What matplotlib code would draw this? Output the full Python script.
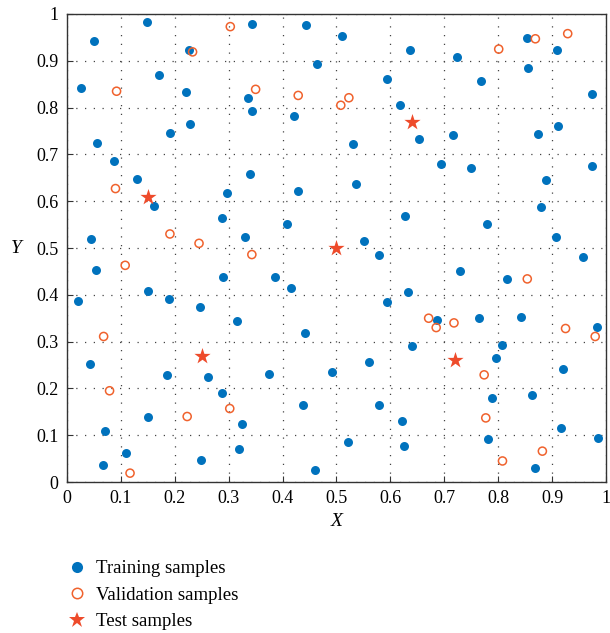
import matplotlib
matplotlib.use("Agg")
import matplotlib.pyplot as plt
from matplotlib.lines import Line2D

train_x = [0.149, 0.050, 0.227, 0.343, 0.444, 0.510, 0.463, 0.171, 0.026, 0.220,
           0.335, 0.343, 0.422, 0.228, 0.192, 0.055, 0.087, 0.129, 0.162, 0.340,
           0.296, 0.429, 0.288, 0.408, 0.044, 0.331,
           0.636, 0.724, 0.853, 0.910, 0.855, 0.594, 0.768, 0.974, 0.618, 0.653,
           0.716, 0.873, 0.911, 0.530, 0.694, 0.749, 0.975, 0.536, 0.889, 0.879,
           0.627, 0.779, 0.551, 0.907,
           0.053, 0.289, 0.386, 0.416, 0.150, 0.189, 0.021, 0.247, 0.316, 0.442,
           0.043, 0.186, 0.262, 0.375, 0.492, 0.287, 0.438, 0.151, 0.324, 0.071,
           0.320, 0.109, 0.066, 0.249, 0.461,
           0.579, 0.958, 0.729, 0.816, 0.632, 0.593, 0.686, 0.764, 0.842, 0.983,
           0.640, 0.808, 0.796, 0.560, 0.920, 0.789, 0.863, 0.578, 0.621, 0.917,
           0.521, 0.625, 0.782, 0.985, 0.868]
train_y = [0.983, 0.942, 0.922, 0.979, 0.976, 0.952, 0.893, 0.870, 0.841, 0.833,
           0.821, 0.793, 0.781, 0.766, 0.746, 0.725, 0.686, 0.648, 0.590, 0.659,
           0.618, 0.622, 0.565, 0.551, 0.519, 0.524,
           0.924, 0.908, 0.949, 0.922, 0.885, 0.861, 0.856, 0.828, 0.805, 0.732,
           0.741, 0.744, 0.761, 0.723, 0.680, 0.672, 0.676, 0.637, 0.645, 0.587,
           0.569, 0.551, 0.516, 0.524,
           0.454, 0.437, 0.439, 0.415, 0.409, 0.392, 0.387, 0.373, 0.343, 0.318,
           0.253, 0.229, 0.224, 0.230, 0.235, 0.190, 0.165, 0.140, 0.124, 0.109,
           0.070, 0.061, 0.036, 0.046, 0.026,
           0.484, 0.481, 0.451, 0.434, 0.407, 0.385, 0.346, 0.350, 0.353, 0.332,
           0.290, 0.292, 0.265, 0.257, 0.241, 0.179, 0.186, 0.164, 0.131, 0.115,
           0.085, 0.077, 0.092, 0.094, 0.031]

val_x = [0.233, 0.303, 0.092, 0.350, 0.429, 0.508, 0.523, 0.090, 0.191, 0.245,
         0.801, 0.869, 0.929,
         0.343, 0.108, 0.068, 0.079, 0.302, 0.223, 0.117,
         0.854, 0.671, 0.685, 0.718, 0.925, 0.980, 0.774, 0.777, 0.882, 0.808]
val_y = [0.919, 0.973, 0.835, 0.839, 0.826, 0.805, 0.821, 0.627, 0.530, 0.510,
         0.925, 0.947, 0.958,
         0.486, 0.463, 0.311, 0.195, 0.157, 0.140, 0.019,
         0.434, 0.350, 0.330, 0.340, 0.328, 0.311, 0.229, 0.137, 0.066, 0.045]

test_x = [0.15, 0.64, 0.50, 0.25, 0.72]
test_y = [0.61, 0.77, 0.50, 0.27, 0.26]

ticks = [0, 0.1, 0.2, 0.3, 0.4, 0.5, 0.6, 0.7, 0.8, 0.9, 1]
tick_labels = ["0", "0.1", "0.2", "0.3", "0.4", "0.5", "0.6", "0.7", "0.8", "0.9", "1"]

blue = "#0072BD"
orange = "#F0622D"
red = "#EE4B2B"

plt.rcParams['font.family'] = ['Liberation Serif', 'DejaVu Serif']

fig = plt.figure(figsize=(6.1, 6.33), dpi=100)
ax = fig.add_axes([0.1098, 0.2385, 0.8836, 0.7394])

ax.scatter(train_x, train_y, s=42, color=blue, zorder=3, linewidths=0)
ax.scatter(val_x, val_y, s=34, facecolors='none', edgecolors=orange, linewidths=1.1, zorder=3)
ax.scatter(test_x, test_y, s=150, marker='*', color=red, linewidths=0, zorder=4)

ax.set_xlim(0, 1)
ax.set_ylim(0, 1)
ax.set_xticks(ticks)
ax.set_yticks(ticks)
ax.set_xticklabels(tick_labels, fontsize=13)
ax.set_yticklabels(tick_labels, fontsize=13)
ax.tick_params(direction='in', length=4, width=0.8, color='#333333', pad=6)
ax.grid(True, color='#444444', linestyle=(0, (1, 6)), linewidth=0.9)
for sp in ax.spines.values():
    sp.set_color('#333333')
    sp.set_linewidth(1.0)

ax.set_xlabel("X", fontsize=14, style='italic', labelpad=4)
ax.set_ylabel("Y", fontsize=14, style='italic', rotation=0, labelpad=14, va='center')

handles = [
    Line2D([], [], linestyle='none', marker='o', markersize=8, color=blue, markeredgewidth=0),
    Line2D([], [], linestyle='none', marker='o', markersize=7.5, markerfacecolor='none',
           markeredgecolor=orange, markeredgewidth=1.1),
    Line2D([], [], linestyle='none', marker='*', markersize=12, color=red, markeredgewidth=0),
]
labels = ["Training samples", "Validation samples", "Test samples"]
fig.legend(handles, labels, loc='upper left', bbox_to_anchor=(0.095, 0.127),
           frameon=False, fontsize=13.5, handletextpad=0.45, labelspacing=0.5,
           handlelength=1.2, borderaxespad=0)

fig.savefig("out.png", dpi=100)
